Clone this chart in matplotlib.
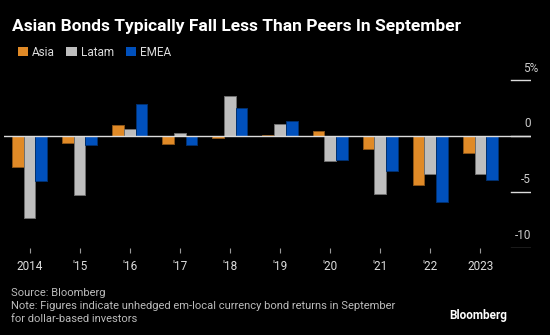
import numpy as np
import matplotlib.pyplot as plt
from matplotlib.patches import Patch
from matplotlib.transforms import offset_copy

plt.rcParams['font.family'] = ['Roboto', 'DejaVu Sans']

years = ['2014', "'15", "'16", "'17", "'18", "'19", "'20", "'21", "'22", '2023']
asia = [-2.8, -0.6, 0.95, -0.7, -0.2, 0.1, 0.45, -1.2, -4.35, -1.55]
latam = [-7.35, -5.3, 0.6, 0.3, 3.6, 1.1, -2.25, -5.2, -3.4, -3.4]
emea = [-4.05, -0.85, 2.9, -0.8, 2.5, 1.35, -2.15, -3.15, -5.95, -3.9]

series = [('Asia', asia, '#E08A27', '#8a5418'),
          ('Latam', latam, '#BEBEBE', '#6f6f6f'),
          ('EMEA', emea, '#0050BC', '#00306f')]

fig = plt.figure(figsize=(5.5, 3.35), dpi=100, facecolor='black')
ax = fig.add_axes([4 / 550, 87 / 335, 527 / 550, 178 / 335], facecolor='black')

x = np.arange(len(years))
w = 0.234
for k, (name, vals, col, edge) in enumerate(series):
    ax.bar(x + (k - 1) * w, vals, w, color=col, edgecolor=edge, linewidth=0.7, zorder=2)

ax.set_xlim(-0.509, 10.01)
ax.set_ylim(-10.03, 5.9)

# zero line and the short right-hand gridline stubs
ax.axhline(0, color='#DDDDDD', lw=1, zorder=3)
for v, lab, c in [(5, '5%', '#DDDDDD'), (-5, '-5', '#DDDDDD'), (-10, '-10', '#888888'), (0, '0', '#DDDDDD')]:
    ax.axhline(v, xmin=(511 - 4) / 527, xmax=1, color=c, lw=1, zorder=3)
    tr = offset_copy(ax.transData, fig=fig, x=0, y=12, units='dots')
    xr = 10.01 + (7 / 50.1 if lab.endswith('%') else 0)
    ax.text(xr, v, lab, transform=tr, ha='right', va='center', color='#CCCCCC', fontsize=8.5)

for s in ax.spines.values():
    s.set_visible(False)
ax.set_yticks([])
ax.set_xticks(x)
ax.set_xticklabels(years)
ax.tick_params(axis='x', colors='#999999', length=3.5, width=0.8, labelcolor='#DDDDDD',
               labelsize=8.5, pad=5)

fig.text(12 / 550, 1 - 26 / 335, 'Asian Bonds Typically Fall Less Than Peers In September',
         color='white', fontsize=12.5, fontweight='bold', va='center', ha='left')

handles = [Patch(facecolor=c, edgecolor='none', label=n) for n, _, c, _ in series]
fig.legend(handles=handles, loc='center left', bbox_to_anchor=(7 / 550, 1 - 52 / 335),
           ncol=3, frameon=False, fontsize=8.5, labelcolor='#DDDDDD',
           handlelength=0.85, handleheight=0.85, handletextpad=0.35, columnspacing=1.0)

fig.text(11 / 550, 1 - 293 / 335, 'Source: Bloomberg', color='#BBBBBB', fontsize=8, va='center')
fig.text(11 / 550, 1 - 306 / 335,
         'Note: Figures indicate unhedged em-local currency bond returns in September',
         color='#BBBBBB', fontsize=8, va='center')
fig.text(11 / 550, 1 - 319 / 335, 'for dollar-based investors', color='#BBBBBB', fontsize=8, va='center')
fig.text(507 / 550, 1 - 316 / 335, 'Bloomberg', color='white', fontsize=8.5, fontweight='bold',
         ha='right', va='center')

fig.savefig('out.png', dpi=100, facecolor='black')
